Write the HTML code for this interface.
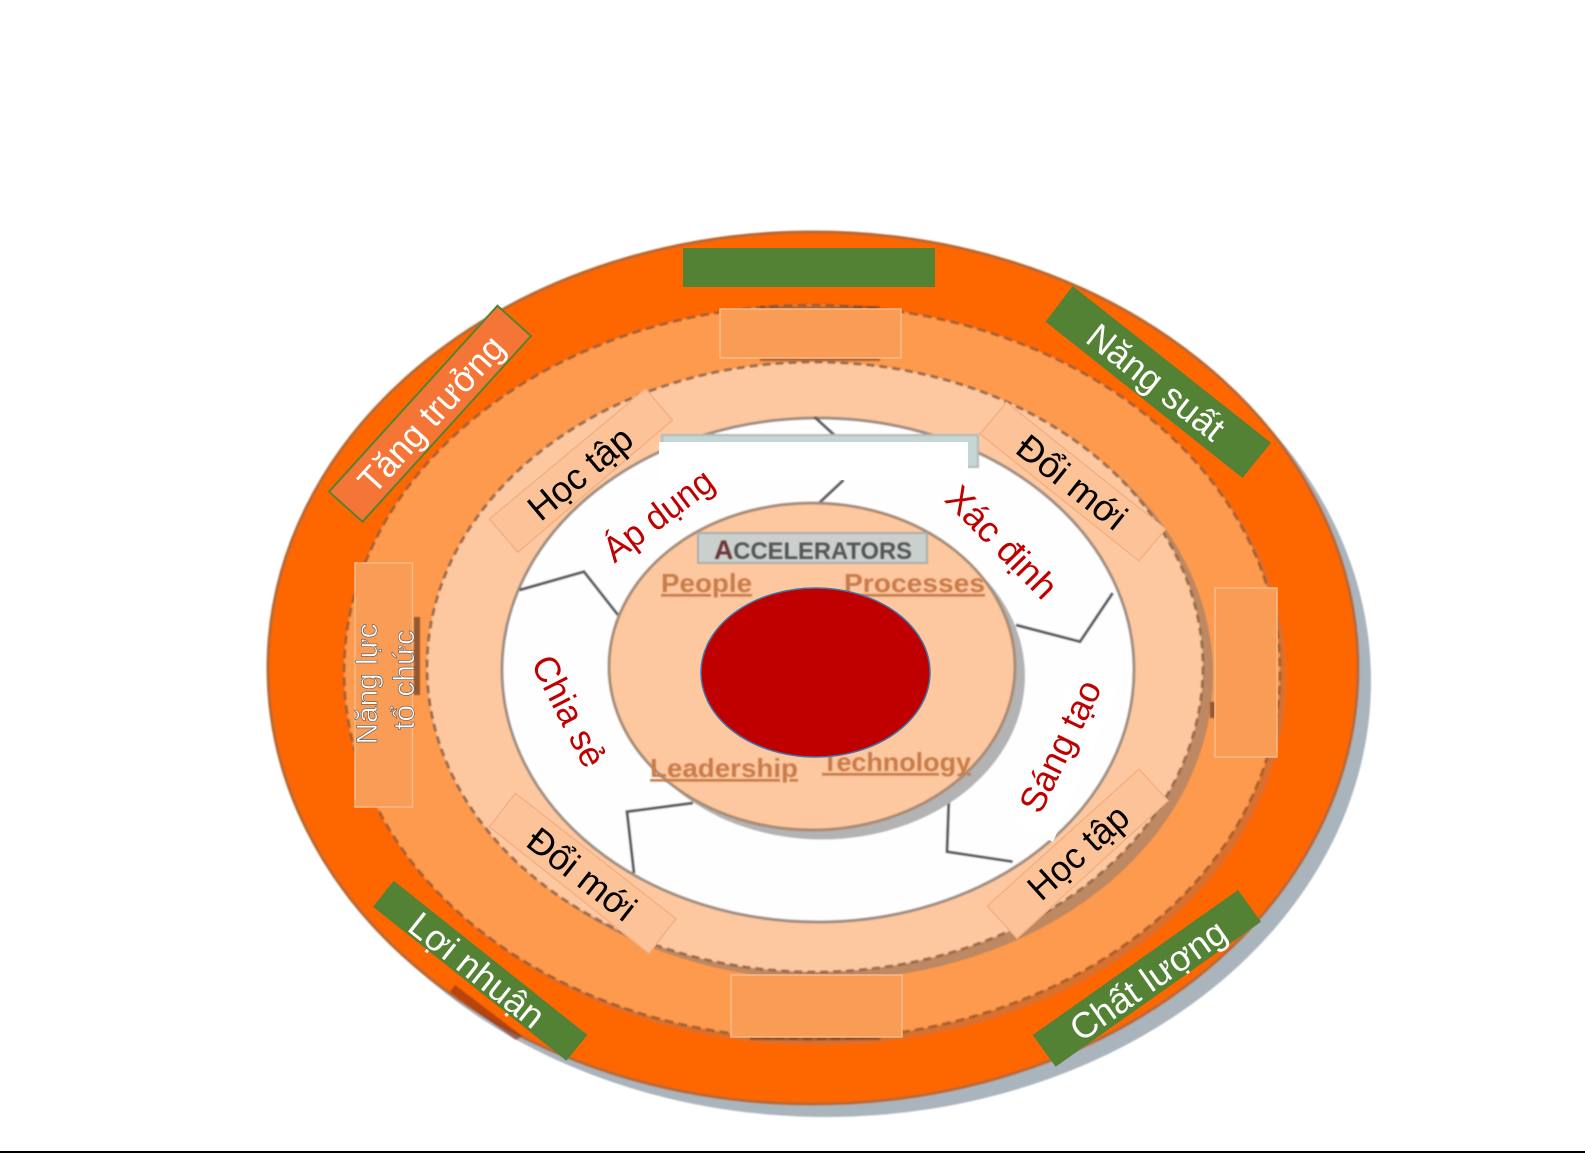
<!DOCTYPE html>
<html lang="vi">
<head>
<meta charset="utf-8">
<title>Diagram</title>
<style>
html,body{margin:0;padding:0;background:#fff;width:1585px;height:1153px;overflow:hidden}
svg{display:block}
text{font-family:"Liberation Sans","Noto Sans CJK SC",sans-serif}
.lbl{font-size:36px;text-anchor:middle}
.w{fill:#fff}.k{fill:#000}.r{fill:#c00000;font-size:36px}
.img{font-weight:bold;fill:#c97a48}
.box{fill:#f89c56;stroke:#f8b98a;stroke-width:1.5}
.pk{fill:#fbc397;stroke:#f4b183;stroke-width:1.5}
.gl{fill:none;stroke:#55585f;stroke-width:3}
</style>
</head>
<body>
<svg width="1585" height="1153" viewBox="0 0 1585 1153" xmlns="http://www.w3.org/2000/svg">
<defs>
<filter id="b" x="-5%" y="-5%" width="110%" height="110%"><feGaussianBlur stdDeviation="0.8"/></filter>
<filter id="t" x="-5%" y="-20%" width="110%" height="140%"><feGaussianBlur stdDeviation="0.7"/></filter>
</defs>
<rect width="1585" height="1153" fill="#fff"/>
<g filter="url(#b)">
  <ellipse cx="826" cy="681" rx="545" ry="436" fill="#aab4bc"/>
  <ellipse cx="813" cy="668" rx="545" ry="436" fill="#fe6600" stroke="#b9682f" stroke-width="3"/>
  <ellipse cx="818" cy="678" rx="468" ry="367" fill="#d9702e"/>
  <ellipse cx="812" cy="672" rx="468" ry="367" fill="#fe9a4e" stroke="#a8602f" stroke-width="3" stroke-dasharray="9 5"/>
  <ellipse cx="825" cy="675" rx="388" ry="305" fill="#bd8862"/>
  <ellipse cx="815" cy="667" rx="388" ry="305" fill="#fdc8a0" stroke="#9c6c4c" stroke-width="3" stroke-dasharray="8 5"/>
  <ellipse cx="818" cy="670" rx="316" ry="252" fill="#fefefe" stroke="#a08d80" stroke-width="3"/>
  <polyline class="gl" points="519.6,590 584,571.7 618,615"/>
  <polyline class="gl" points="1112.7,593 1080,641.7 1016,625"/>
  <polyline class="gl" points="693,803 627,811.7 634,873"/>
  <polyline class="gl" points="949,795 947,851.7 1012.7,861.7"/>
  <line class="gl" x1="814.5" y1="417" x2="842" y2="442"/>
  <line class="gl" x1="843.6" y1="480" x2="818" y2="504"/>
  <rect x="662" y="435" width="316" height="32" fill="#c5d6d6" stroke="#b0b8b8" stroke-width="2"/>
  <ellipse cx="822" cy="676" rx="203" ry="163.5" fill="#b3b3b3"/>
  <ellipse cx="812" cy="666.5" rx="203" ry="163.5" fill="#fdc8a0" stroke="#a88b74" stroke-width="3"/>
  <rect x="698" y="533" width="229" height="30" fill="#c9d0cd" stroke="#aaa" stroke-width="2"/>
</g>
<g filter="url(#t)">
  <text x="813" y="559" font-size="24" font-weight="bold" fill="#555" text-anchor="middle" textLength="198" lengthAdjust="spacingAndGlyphs"><tspan fill="#6e3636" font-size="27">A</tspan>CCELERATORS</text>
  <text class="img" x="661" y="592" font-size="26" textLength="91" lengthAdjust="spacingAndGlyphs" text-decoration="underline">People</text>
  <text class="img" x="844" y="592" font-size="26" textLength="141" lengthAdjust="spacingAndGlyphs" text-decoration="underline">Processes</text>
  <text class="img" x="650" y="777" font-size="26" textLength="148" lengthAdjust="spacingAndGlyphs" text-decoration="underline">Leadership</text>
  <text class="img" x="822" y="771" font-size="26" textLength="149" lengthAdjust="spacingAndGlyphs" text-decoration="underline">Technology</text>
  <path d="M414 617h6v78h-6zM1210 702h5v16h-5z" fill="#7a4526" opacity=".8"/>
  <path d="M760 306h120v3H760zM760 358h120v3H760zM750 1037h130v3H750z" fill="#6d3d22" opacity=".55"/>
  <path d="M455 985 L522 1036 L516 1040 L450 992Z" fill="#8a2c10" opacity=".6"/>
</g>

<rect x="659" y="442" width="309" height="38" fill="#fff"/>
<polygon points="1118,690 1053,842 1015,822 1075,670" fill="#fff"/>
<ellipse cx="815.5" cy="672.5" rx="114.5" ry="84.5" fill="#c00000" stroke="#3f74a8" stroke-width="1.5"/>

<rect x="683" y="248" width="252" height="39" fill="#548235"/>
<rect class="box" x="720" y="309" width="181" height="49"/>
<rect class="box" x="1215" y="588" width="62" height="169"/>
<rect class="box" x="731" y="975" width="171" height="62"/>
<rect class="box" x="355" y="563" width="57.5" height="244"/>

<polygon points="497.5,305.7 531,336 362.5,521.7 329,491.7" fill="#f47536" stroke="#548235" stroke-width="2"/>
<polygon points="1072.7,286 1271,442.7 1242.5,478 1045.5,321.7" fill="#548235"/>
<polygon points="393.6,880.7 587.5,1035 566.4,1060.7 373,906.7" fill="#548235"/>
<polygon points="1238,890 1261,921.7 1055.6,1066.7 1032.7,1035" fill="#548235"/>
<polygon class="pk" points="645.4,389 672.5,420 517.9,552.3 489.3,519"/>
<polygon class="pk" points="1006.5,402.3 1165.5,529 1139,561 980,434"/>
<polygon class="pk" points="515.4,793.3 676,918.7 649,953.3 489.3,826.7"/>
<polygon class="pk" points="1139,769 1168,800.7 1017,938.3 987.3,906"/>

<text class="lbl w" transform="translate(431,414) rotate(-47.8)" dy=".35em" textLength="198" lengthAdjust="spacingAndGlyphs">Tăng trưởng</text>
<text class="lbl w" transform="translate(1156,382) rotate(38.3)" dy=".35em" textLength="164" lengthAdjust="spacingAndGlyphs">Năng suất</text>
<text class="lbl w" transform="translate(477,970) rotate(38.5)" dy=".35em" textLength="162" lengthAdjust="spacingAndGlyphs">Lợi nhuận</text>
<text class="lbl w" transform="translate(1148,980) rotate(-35.2)" dy=".35em" textLength="182" lengthAdjust="spacingAndGlyphs">Chất lượng</text>
<text class="lbl k" transform="translate(580,473) rotate(-39.8)" dy=".35em" textLength="124" lengthAdjust="spacingAndGlyphs">Học tập</text>
<text class="lbl k" transform="translate(1072,482) rotate(38.5)" dy=".35em" textLength="129" lengthAdjust="spacingAndGlyphs">Đổi mới</text>
<text class="lbl k" transform="translate(582,874) rotate(38)" dy=".35em" textLength="127" lengthAdjust="spacingAndGlyphs">Đổi mới</text>
<text class="lbl k" transform="translate(1078,852) rotate(-42)" dy=".35em" textLength="122" lengthAdjust="spacingAndGlyphs">Học tập</text>
<text class="lbl r" transform="translate(658,515) rotate(-37)" dy=".35em" textLength="128" lengthAdjust="spacingAndGlyphs">Áp dụng</text>
<text class="lbl r" transform="translate(1002,542) rotate(45.5)" dy=".35em" textLength="142" lengthAdjust="spacingAndGlyphs">Xác định</text>
<text class="lbl r" transform="translate(569,711) rotate(63)" dy=".35em" textLength="120" lengthAdjust="spacingAndGlyphs">Chia sẻ</text>
<text class="lbl r" transform="translate(1060,746) rotate(-64)" dy=".35em" textLength="142" lengthAdjust="spacingAndGlyphs">Sáng tạo</text>

<text transform="translate(377,684) rotate(-90)" font-size="30" text-anchor="middle" fill="#fff" stroke="#555" stroke-width=".6" textLength="121" lengthAdjust="spacingAndGlyphs">Năng lực</text>
<text transform="translate(414,680) rotate(-90)" font-size="30" text-anchor="middle" fill="#fff" stroke="#555" stroke-width=".6" textLength="100" lengthAdjust="spacingAndGlyphs">tổ chức</text>

<rect x="0" y="1151" width="1585" height="2" fill="#000"/>
</svg>
</body>
</html>
